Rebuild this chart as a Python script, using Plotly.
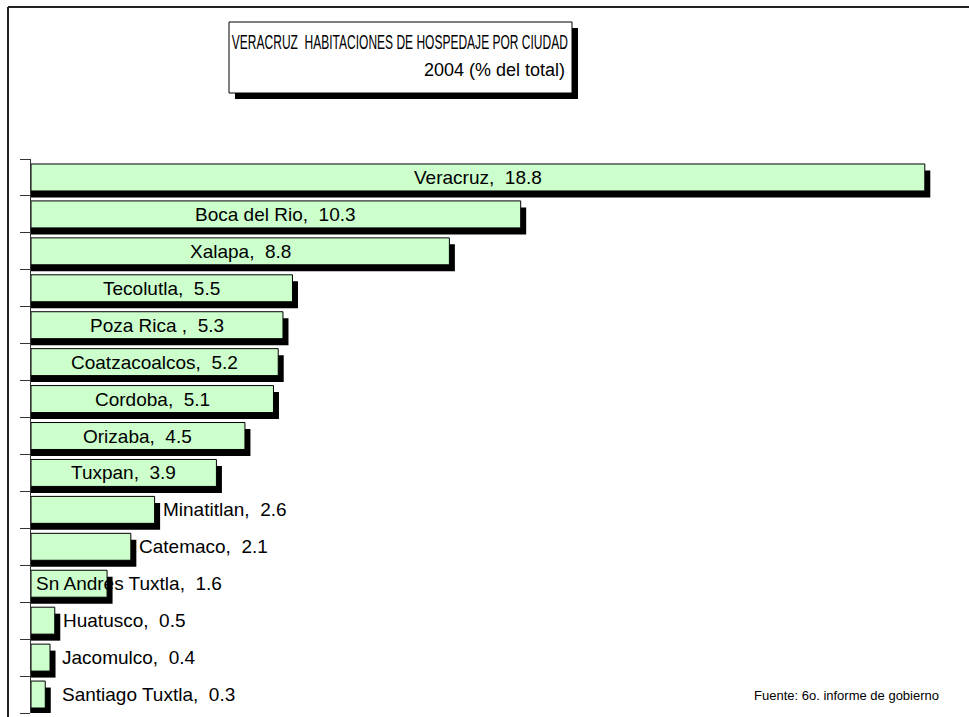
import plotly.graph_objects as go

# ---- data ----
cities = ["Veracruz", "Boca del Rio", "Xalapa", "Tecolutla", "Poza Rica ", "Coatzacoalcos",
          "Cordoba", "Orizaba", "Tuxpan", "Minatitlan", "Catemaco", "Sn Andres Tuxtla",
          "Huatusco", "Jacomulco", "Santiago Tuxtla"]
values = [18.8, 10.3, 8.8, 5.5, 5.3, 5.2, 5.1, 4.5, 3.9, 2.6, 2.1, 1.6, 0.5, 0.4, 0.3]
title_line1 = "VERACRUZ  HABITACIONES DE HOSPEDAJE POR CIUDAD"
title_line2 = "2004 (% del total)"
source_note = "Fuente: 6o. informe de gobierno"

# label placement style (not data)
label_mode = ["inside"] * 9 + ["outside", "outside", "left", "outside", "outside", "outside"]

W, H = 969, 717
L, R, T, B = 31, 19, 159, 4
PW, PH = W - L - R, H - T - B
XMAX = 19.33
scale = PW / XMAX  # px per unit

def px(x):
    return (x - L) / PW

def py(y):
    return (H - B - y) / PH

FONT = "Liberation Sans, Arial, sans-serif"
idx = list(range(len(cities)))
dx = 5.5 / scale
dy = 6.5 / (PH / len(cities))

fig = go.Figure()
# shadows
fig.add_trace(go.Bar(
    y=[i + dy for i in idx], x=[v + dx for v in values], orientation="h",
    width=0.73, marker=dict(color="black", line=dict(width=0)),
    hoverinfo="skip", showlegend=False))
# bars
fig.add_trace(go.Bar(
    y=idx, x=values, orientation="h", width=0.73,
    marker=dict(color="#CCFFCC", line=dict(color="black", width=1)),
    showlegend=False, hovertext=cities))

annotations = []
for i, (c, v, m) in enumerate(zip(cities, values, label_mode)):
    txt = f"{c}, \u00a0{v}"
    if m == "inside":
        annotations.append(dict(x=v / 2, y=i, xref="x", yref="y", text=txt, showarrow=False,
                                xanchor="center", yanchor="middle",
                                font=dict(family=FONT, size=19, color="black")))
    elif m == "left":
        annotations.append(dict(x=0, y=i, xref="x", yref="y", text=txt, showarrow=False,
                                xanchor="left", yanchor="middle", xshift=3,
                                font=dict(family=FONT, size=19, color="black")))
    else:
        xx = max(v + 8 / scale, (62 - L) / scale)
        annotations.append(dict(x=xx, y=i, xref="x", yref="y", text=txt, showarrow=False,
                                xanchor="left", yanchor="middle", xshift=-2,
                                font=dict(family=FONT, size=19, color="black")))

annotations.append(dict(x=px(400), y=py(41), xref="paper", yref="paper", text=title_line1,
                        showarrow=False, xanchor="center", yanchor="middle",
                        font=dict(family=FONT, size=21, color="black")))
annotations.append(dict(x=px(494), y=py(70), xref="paper", yref="paper", text=title_line2,
                        showarrow=False, xanchor="center", yanchor="middle",
                        font=dict(family=FONT, size=18, color="black")))
annotations.append(dict(x=px(846), y=py(695), xref="paper", yref="paper", text=source_note,
                        showarrow=False, xanchor="center", yanchor="middle",
                        font=dict(family=FONT, size=13, color="black")))

shapes = [
    # page frame
    dict(type="line", xref="paper", yref="paper", x0=px(8), x1=px(980), y0=py(7), y1=py(7),
         line=dict(color="#222222", width=2)),
    dict(type="line", xref="paper", yref="paper", x0=px(8), x1=px(8), y0=py(7), y1=py(730),
         line=dict(color="#222222", width=2)),
    # title box shadow + box
    dict(type="rect", xref="paper", yref="paper", x0=px(235), x1=px(578), y0=py(28), y1=py(99),
         fillcolor="black", line=dict(width=0), layer="above"),
    dict(type="rect", xref="paper", yref="paper", x0=px(229), x1=px(572), y0=py(22), y1=py(93),
         fillcolor="white", line=dict(color="black", width=1), layer="above"),
]

fig.update_layout(
    width=W, height=H, margin=dict(l=L, r=R, t=T, b=B, pad=0),
    paper_bgcolor="white", plot_bgcolor="white",
    barmode="overlay", showlegend=False,
    annotations=annotations, shapes=shapes,
    xaxis=dict(range=[0, XMAX], showgrid=False, zeroline=False, showline=False,
               showticklabels=False, ticks=""),
    yaxis=dict(range=[len(cities) - 0.5, -0.5], showgrid=False, zeroline=False,
               showline=True, linecolor="#333333", linewidth=1,
               ticks="outside", ticklen=10, tickcolor="#333333", tickwidth=1,
               tickvals=[i - 0.5 for i in range(len(cities) + 1)],
               showticklabels=False),
)

post = """
document.body.style.margin = '0';
document.body.style.overflow = 'hidden';
var gd = document.getElementById('{plot_id}');
function fixTitle(){
  gd.querySelectorAll('text').forEach(function(t){
    if (t.textContent.indexOf('VERACRUZ') === 0) {
      t.setAttribute('textLength', '336');
      t.setAttribute('lengthAdjust', 'spacingAndGlyphs');
    }
  });
}
fixTitle();
if (gd.on) { gd.on('plotly_afterplot', fixTitle); }
"""
fig.write_html("out.html", post_script=post, config={"displayModeBar": False})
